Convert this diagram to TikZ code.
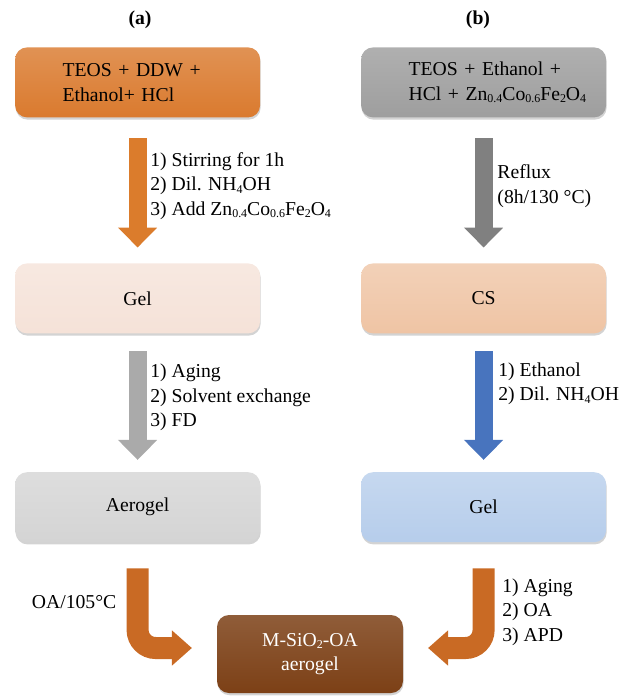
\documentclass[tikz,border=0pt]{standalone}
\usepackage{fontspec}
\setmainfont{Liberation Serif}
\usetikzlibrary{positioning,arrows.meta,shadows}
\newcommand{\procfont}{\fontsize{14}{17.5}\selectfont}
\newcommand{\sub}[1]{\raisebox{-0.25ex}{\fontsize{8.5}{8.5}\selectfont #1}}
\definecolor{mixorange}{RGB}{218,122,46}
\definecolor{mixgray}{RGB}{158,158,158}
\definecolor{gelpeach}{RGB}{245,226,216}
\definecolor{cspeach}{RGB}{239,196,164}
\definecolor{aerogray}{RGB}{212,212,212}
\definecolor{gelblue}{RGB}{182,205,235}
\definecolor{finalbrown}{RGB}{124,64,22}
\definecolor{arrorange}{RGB}{219,124,44}
\definecolor{arrgray}{RGB}{128,128,128}
\definecolor{arrlight}{RGB}{170,170,170}
\definecolor{arrblue}{RGB}{72,116,190}
\definecolor{arrbend}{RGB}{201,106,36}
\tikzset{
  basebox/.style={rounded corners=0.3cm, minimum width=6.125cm, minimum height=1.75cm, drop shadow={shadow xshift=0.4pt, shadow yshift=-1.6pt, opacity=0.35}},
  mixnode/.style={basebox, top color=#1!82!white, bottom color=#1, text width=3.75cm, align=left},
  stagenode/.style={basebox, top color=#1!78!white, bottom color=#1, align=center},
  finalnode/.style={basebox, minimum width=4.65cm, minimum height=1.95cm, top color=finalbrown!85!white, bottom color=finalbrown, text=white, align=center},
  flowarrow/.style={line width=0.45cm, -{Triangle[length=0.5cm, width=0.95cm]}},
  bendarrow/.style={line width=0.55cm, rounded corners=0.45cm, arrbend, -{Triangle[length=0.5cm, width=0.85cm]}},
  procnote/.style={anchor=north west, inner sep=0pt, align=left},
  panellabel/.style={font=\procfont\bfseries}
}
\begin{document}
\begin{tikzpicture}[every node/.style={font=\procfont}]
  \useasboundingbox (0,0) rectangle (15.475,-17.425);
  % panel titles
  \node[panellabel] (pa) at (3.5,-0.5) {(a)};
  \node[panellabel] (pb) at (11.95,-0.5) {(b)};
  % boxes
  \node[mixnode=mixorange] (mixa) at (3.44,-2.06) {TEOS + DDW +\\Ethanol+ HCl};
  \node[mixnode=mixgray] (mixb) at (12.09,-2.06) {TEOS~+~Ethanol~+\\HCl~+~Zn\sub{0.4}Co\sub{0.6}Fe\sub{2}O\sub{4}};
  \node[stagenode=gelpeach] (gela) at (3.44,-7.46) {Gel};
  \node[stagenode=cspeach] (csb) at (12.09,-7.46) {CS};
  \node[stagenode=aerogray] (aero) at (3.44,-12.68) {Aerogel};
  \node[stagenode=gelblue] (gelb) at (12.09,-12.68) {Gel};
  \node[finalnode] (final) at (7.75,-16.35) {M-SiO\sub{2}-OA\\aerogel};
  % arrows
  \draw[flowarrow, arrorange, shorten <=0.52cm, shorten >=0.39cm] (mixa.south) -- (gela.north);
  \draw[flowarrow, arrgray, shorten <=0.52cm, shorten >=0.39cm] (mixb.south) -- (csb.north);
  \draw[flowarrow, arrlight, shorten <=0.44cm, shorten >=0.3cm] (gela.south) -- (aero.north);
  \draw[flowarrow, arrblue, shorten <=0.44cm, shorten >=0.3cm] (csb.south) -- (gelb.north);
  \draw[bendarrow, shorten <=0.65cm, shorten >=0.62cm] (aero.south) |- ([yshift=0.15cm]final.west);
  \draw[bendarrow, shorten <=0.65cm, shorten >=0.62cm] (gelb.south) |- ([yshift=0.15cm]final.east);
  % step notes
  \node[procnote] (notea1) at (3.75,-3.8) {1) Stirring for 1h\\2) Dil. NH\sub{4}OH\\3) Add Zn\sub{0.4}Co\sub{0.6}Fe\sub{2}O\sub{4}};
  \node[procnote] (noteb1) at (12.43,-4.12) {Reflux\\(8h/130 °C)};
  \node[procnote] (notea2) at (3.75,-9.09) {1) Aging\\2) Solvent exchange\\3) FD};
  \node[procnote] (noteb2) at (12.45,-9.06) {1) Ethanol\\2) Dil. NH\sub{4}OH};
  \node[procnote, anchor=base west] (notea3) at (0.79,-15.2) {OA/105°C};
  \node[procnote] (noteb3) at (12.55,-14.46) {1) Aging\\2) OA\\3) APD};
\end{tikzpicture}
\end{document}
